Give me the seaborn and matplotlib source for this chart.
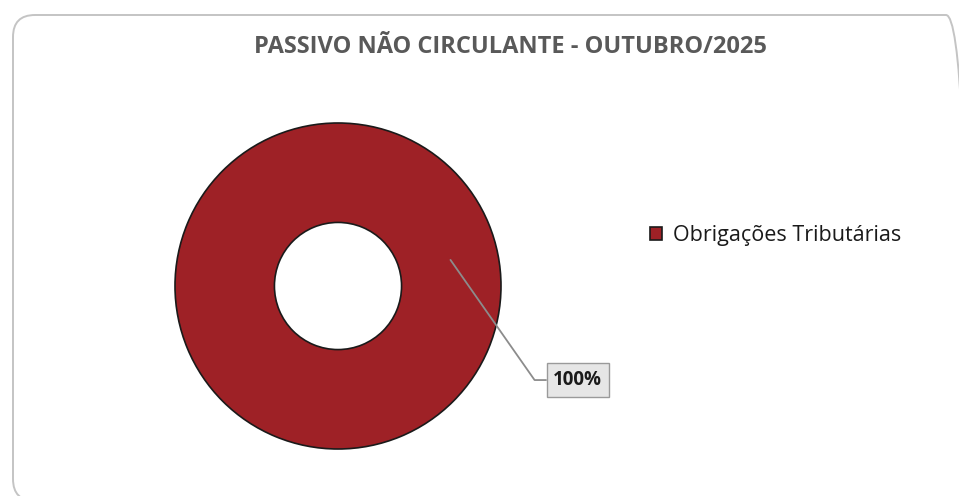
import matplotlib.pyplot as plt
import seaborn as sns
from matplotlib.patches import FancyBboxPatch
from matplotlib.transforms import IdentityTransform

categories = ["Obrigações Tributárias"]
values = [100.0]
colors = ["#9E2126"]
title = "PASSIVO NÃO CIRCULANTE - OUTUBRO/2025"

sns.set_style("white")
plt.rcParams["font.family"] = ["Open Sans", "DejaVu Sans"]

W, H = 959, 496
fig = plt.figure(figsize=(W / 100, H / 100), dpi=100)
fig.patch.set_facecolor("white")

# rounded chart-area border (slightly cut off at right and bottom, as in the screenshot)
border = FancyBboxPatch((13, -5), 955, H - 15 + 5,
                        boxstyle="round,pad=0,rounding_size=22",
                        transform=IdentityTransform(), facecolor="none",
                        edgecolor="#C4C4C4", linewidth=1.4, zorder=-1)
fig.patches.append(border)

# axes tightly around the donut
cx, cy, r = 338, 286, 163
ax = fig.add_axes([(cx - r) / W, (H - cy - r) / H, 2 * r / W, 2 * r / H])

wedges, _ = ax.pie(values, colors=colors, radius=1.0, startangle=90,
                   counterclock=False,
                   wedgeprops=dict(width=0.61, edgecolor="#1a1a1a", linewidth=1.2))
ax.set_xlim(-1, 1)
ax.set_ylim(-1, 1)
ax.set_aspect("equal")
ax.axis("off")

total = sum(values)
for v in values:
    ax.annotate(f"{v / total:.0%}", xy=(0.69, 0.16), xytext=(1.47, -0.577),
                ha="center", va="center", fontsize=13.5, fontweight="bold",
                color="#1a1a1a", annotation_clip=False,
                bbox=dict(boxstyle="square,pad=0.35", fc="#E6E6E6", ec="#9A9A9A", lw=1),
                arrowprops=dict(arrowstyle="-", color="#8C8C8C", lw=1.3,
                                connectionstyle="angle,angleA=0,angleB=-55,rad=0",
                                shrinkA=0, shrinkB=0))

fig.text(510 / W, 1 - 47 / H, title, ha="center", va="center",
         fontsize=17, fontweight="bold", color="#595959")

leg = fig.legend(wedges, categories, loc="center left",
                 bbox_to_anchor=(631 / W, 1 - 236 / H), frameon=False,
                 fontsize=15.5, handlelength=0.55, handleheight=0.55,
                 handletextpad=0.5)
for t in leg.get_texts():
    t.set_color("#1a1a1a")

fig.savefig("out.png", dpi=100)
